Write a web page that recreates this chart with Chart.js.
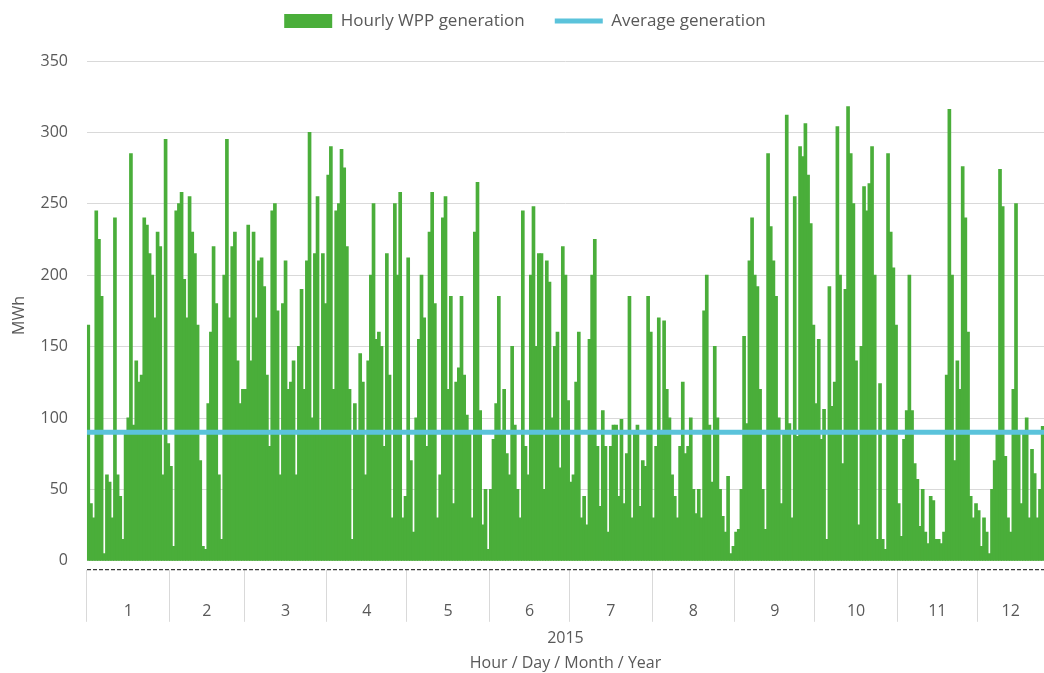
<!DOCTYPE html>
<html>
<head>
<meta charset="utf-8">
<title>Hourly WPP generation 2015</title>
<script src="https://cdn.jsdelivr.net/npm/chart.js@4.4.1/dist/chart.umd.min.js"></script>
<style>
  html, body { margin: 0; padding: 0; background: #fff; }
  #wrap { width: 1044px; height: 673px; }
</style>
</head>
<body>
<div id="wrap"><canvas id="wppChart"></canvas></div>
<script>
// month labels on the category band and how many days of each are shown
const monthLabels = ['1', '2', '3', '4', '5', '6', '7', '8', '9', '10', '11', '12'];
const daysShown = [31, 28, 31, 30, 31, 30, 31, 31, 30, 31, 30, 25];

// generation, one value per day (MWh)
const jan = [165, 40, 30, 245, 225, 185, 5, 60, 55, 30, 240, 60, 45, 15, 90, 100, 285, 95, 140, 125,
             130, 240, 235, 215, 200, 170, 230, 220, 60, 295, 82];
const feb = [66, 10, 245, 250, 258, 197, 170, 255, 230, 215, 165, 70, 10, 8, 110, 160, 220, 180, 60, 15,
             200, 295, 170, 220, 230, 140, 110, 120];
const mar = [120, 235, 140, 230, 170, 210, 212, 192, 130, 80, 245, 250, 175, 60, 180, 210, 120, 125, 140, 60,
             150, 190, 120, 210, 300, 100, 215, 255, 90, 215, 180];
const apr = [270, 290, 120, 245, 250, 288, 275, 220, 120, 15, 110, 90, 145, 125, 60, 140, 200, 250, 155, 160,
             150, 80, 215, 130, 30, 250, 200, 258, 30, 45];
const may = [212, 70, 20, 100, 155, 200, 170, 80, 230, 258, 180, 30, 60, 240, 255, 120, 185, 40, 125, 135,
             185, 130, 102, 90, 30, 230, 265, 105, 25, 50, 8];
const jun = [50, 85, 110, 185, 90, 120, 75, 60, 150, 95, 50, 30, 245, 80, 60, 200, 248, 150, 215, 215,
             50, 210, 195, 100, 150, 160, 65, 220, 200, 112];
const jul = [55, 60, 125, 160, 30, 45, 25, 155, 200, 225, 80, 38, 105, 80, 20, 80, 95, 95, 45, 99,
             40, 75, 185, 30, 90, 95, 38, 70, 66, 185, 160];
const aug = [30, 80, 170, 90, 168, 120, 100, 60, 45, 30, 80, 125, 75, 80, 100, 50, 33, 50, 30, 175,
             200, 95, 55, 150, 100, 50, 31, 20, 59, 5, 10];
const sep = [20, 22, 50, 157, 96, 210, 240, 200, 192, 120, 50, 22, 285, 234, 210, 185, 100, 40, 90, 312,
             96, 30, 255, 87, 290, 283, 306, 270, 236, 165];
const oct = [110, 155, 85, 106, 15, 192, 108, 125, 304, 200, 68, 190, 318, 285, 250, 140, 25, 150, 262, 245,
             264, 290, 200, 15, 124, 15, 8, 285, 230, 205, 165];
const nov = [40, 17, 85, 105, 200, 105, 68, 57, 24, 50, 20, 12, 45, 42, 15, 15, 12, 20, 130, 316,
             200, 70, 140, 120, 276, 240, 160, 45, 30, 40];
const dec = [35, 10, 30, 20, 5, 50, 70, 90, 274, 248, 73, 30, 20, 120, 250, 90, 40, 90, 100, 30,
             78, 61, 30, 50, 94];

const avgGeneration = 90;
const yTicks = [0, 50, 100, 150, 200, 250, 300, 350];
const yFloor = -6.3; // dashed base line sits a little below zero

const generation = [].concat(jan, feb, mar, apr, may, jun, jul, aug, sep, oct, nov, dec);
const totalDays = generation.length;

// month boundaries (even ticks) and month centres (odd ticks) on the day axis
const bounds = [0];
daysShown.forEach(n => bounds.push(bounds[bounds.length - 1] + n));
const xTicks = [];
for (let i = 0; i < monthLabels.length; i++) {
    xTicks.push(bounds[i]);
    xTicks.push((bounds[i] + bounds[i + 1]) / 2);
}
xTicks.push(bounds[bounds.length - 1]);

Chart.defaults.font.family = "'Open Sans', sans-serif";
Chart.defaults.font.size = 16;
Chart.defaults.color = '#595959';

const green = '#4AAE3A';
const blue = '#5BC3DB';

// leave room between the legend and the plot
const legendGap = {
    id: 'legendGap',
    beforeUpdate(chart) {
        const lg = chart.legend;
        if (lg && !lg._gapPatched) {
            const fit = lg.fit;
            lg.fit = function () { fit.call(this); this.height = 78.5; };
            lg._gapPatched = true;
        }
    }
};

const isBase = c => c.tick && c.tick.value < 0;

const ctx = document.getElementById('wppChart').getContext('2d');

new Chart(ctx, {
    type: 'bar',
    data: {
        datasets: [
            {
                label: 'Hourly WPP generation',
                data: generation.map((v, i) => ({ x: i + 0.5, y: v })),
                backgroundColor: green,
                borderWidth: 0,
                barPercentage: 1,
                categoryPercentage: 1,
                inflateAmount: 0.5,
                pointStyle: 'rect',
                order: 2
            },
            {
                type: 'line',
                label: 'Average generation',
                data: [{ x: 0, y: avgGeneration }, { x: totalDays, y: avgGeneration }],
                borderColor: blue,
                backgroundColor: blue,
                borderWidth: 5,
                pointRadius: 0,
                pointHoverRadius: 0,
                pointStyle: 'line',
                pointBorderColor: blue,
                pointBorderWidth: 5,
                order: 1
            }
        ]
    },
    plugins: [legendGap],
    options: {
        responsive: true,
        maintainAspectRatio: false,
        animation: false,
        layout: { padding: { left: 6, right: 0, top: -17.5, bottom: 0 } },
        plugins: {
            legend: {
                display: true,
                position: 'top',
                labels: {
                    usePointStyle: true,
                    pointStyleWidth: 48,
                    boxHeight: 14,
                    padding: 30,
                    color: '#595959',
                    font: { size: 17 },
                    sort: (a, b) => a.datasetIndex - b.datasetIndex
                }
            },
            tooltip: { enabled: false }
        },
        scales: {
            x: {
                type: 'linear',
                min: 0,
                max: totalDays,
                offset: false,
                afterBuildTicks: axis => { axis.ticks = xTicks.map(v => ({ value: v })); },
                grid: {
                    offset: false,
                    drawOnChartArea: false,
                    drawTicks: true,
                    tickLength: 52,
                    color: c => (c.index % 2 === 0 ? '#D9D9D9' : 'rgba(0,0,0,0)')
                },
                border: { display: false },
                ticks: {
                    autoSkip: false,
                    maxRotation: 0,
                    padding: -20,
                    color: '#595959',
                    callback: (v, i) => (i % 2 ? monthLabels[(i - 1) / 2] : '')
                },
                title: {
                    display: true,
                    text: ['2015', 'Hour / Day / Month / Year'],
                    color: '#595959',
                    font: { size: 16, lineHeight: 1.5625 },
                    padding: { top: 25, bottom: -3 }
                }
            },
            y: {
                min: yFloor,
                max: 350,
                afterBuildTicks: axis => {
                    axis.ticks = [{ value: yFloor }].concat(yTicks.map(v => ({ value: v })));
                },
                grid: {
                    color: c => (isBase(c) ? '#3A3A3A' : '#D9D9D9'),
                    lineWidth: c => (isBase(c) ? 1.2 : 1),
                    drawTicks: false
                },
                border: {
                    display: false,
                    dash: c => (isBase(c) ? [4, 2] : [])
                },
                ticks: {
                    color: '#595959',
                    padding: 19,
                    callback: v => (v < 0 ? '' : v)
                },
                title: {
                    display: true,
                    text: 'MWh',
                    color: '#595959',
                    padding: { top: 4, bottom: -7.7 }
                }
            }
        }
    }
});
</script>
</body>
</html>
